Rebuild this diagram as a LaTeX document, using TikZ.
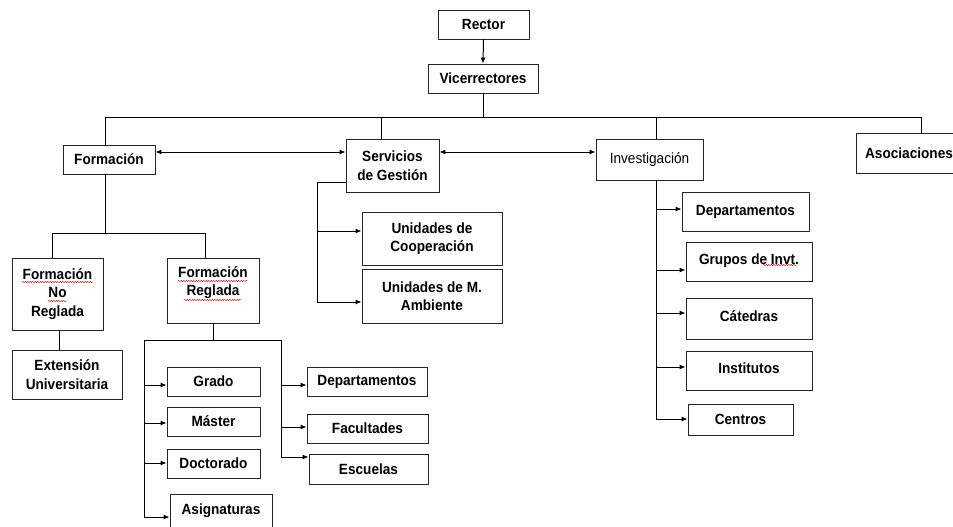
\documentclass[tikz,border=0pt]{standalone}
\usepackage{fontspec}
\setmainfont{Liberation Sans}[FakeStretch=0.92]
\usetikzlibrary{arrows.meta,decorations.pathmorphing}
\begin{document}
\begin{tikzpicture}[x=1pt,y=-1pt,
  box/.style={draw=black!85,line width=0.9pt,inner sep=0pt,align=center,font=\fontsize{14.8}{18.5}\selectfont\bfseries},
  reg/.style={font=\fontsize{14.8}{18.5}\selectfont},
  ln/.style={line width=1pt,black},
  arr/.style={ln,-{Latex[length=6pt,width=5pt]}},
  darr/.style={ln,{Latex[length=6pt,width=5pt]}-{Latex[length=6pt,width=5pt]}},
  squig/.style={red!80!black,line width=0.4pt,decorate,decoration={snake,amplitude=0.7pt,segment length=2.5pt}}]
\useasboundingbox (0,0) rectangle (953,527);
\fill[white] (0,0) rectangle (953,527);
% boxes
\node[box,minimum width=91,minimum height=29] (rector) at (483.5,24.5) {Rector};
\node[box,minimum width=110,minimum height=29] (vice) at (483,78.5) {Vicerrectores};
\node[box,minimum width=92,minimum height=29] (form) at (109,159.5) {Formación};
\node[box,minimum width=93,minimum height=53] (serv) at (392.5,165.5) {Servicios\\de Gestión};
\node[box,reg,minimum width=107,minimum height=41] (inv) at (649.5,159.5) {Investigación};
\node[box,minimum width=106,minimum height=40] (asoc) at (909,153) {Asociaciones};
\node[box,minimum width=140,minimum height=53] (coop) at (432,238.5) {Unidades de\\Cooperación};
\node[box,minimum width=140,minimum height=54] (amb) at (432,296) {Unidades de M.\\Ambiente};
\node[box,minimum width=91,minimum height=72] (fnr) at (57.5,294) {Formación\\No\\Reglada};
\node[box,minimum width=92,minimum height=65] (fr) at (213,290.5) {Formación\\Reglada\\\mbox{}};
\node[box,minimum width=110,minimum height=49] (ext) at (67,374.5) {Extensión\\Universitaria};
\node[box,minimum width=93,minimum height=29] (grado) at (213.5,381.5) {Grado};
\node[box,minimum width=93,minimum height=29] (master) at (213.5,421.5) {Máster};
\node[box,minimum width=93,minimum height=29] (doct) at (213.5,463.5) {Doctorado};
\node[box,minimum width=102,minimum height=34] (asig) at (221,511) {Asignaturas};
\node[box,minimum width=120,minimum height=29] (dep1) at (367,381.5) {Departamentos};
\node[box,minimum width=121,minimum height=29] (fac) at (367.5,428.5) {Facultades};
\node[box,minimum width=119,minimum height=30] (esc) at (368.5,469) {Escuelas};
\node[box,minimum width=127,minimum height=39] (dep2) at (745.5,211.5) {Departamentos};
\node[box,minimum width=126,minimum height=39] (grupos) at (749,261.5) {\raisebox{4pt}{Grupos de Invt.}};
\node[box,minimum width=126,minimum height=41] (cat) at (749,318.5) {\raisebox{4pt}{Cátedras}};
\node[box,minimum width=126,minimum height=39] (inst) at (749,370.5) {\raisebox{4pt}{Institutos}};
\node[box,minimum width=105,minimum height=31] (centros) at (740.5,419.5) {Centros};
% squiggles (spell-check marks)
\draw[squig] (22,282) -- (93,282);
\draw[squig] (48,301) -- (67,301);
\draw[squig] (178,281) -- (248,281);
\draw[squig] (184,300) -- (241,300);
\draw[squig] (763,265) -- (796,265);
% coordinates
\coordinate (b0) at (483,117);
\coordinate (b1) at (105,117);
\coordinate (b2) at (381,117);
\coordinate (b3) at (656,117);
\coordinate (b4) at (921,117);
\coordinate (ya) at (0,152);
\coordinate (s1) at (317,182);
\coordinate (sc) at (317,231);
\coordinate (sa) at (317,302);
\coordinate (f1) at (105,233);
\coordinate (f2) at (52,233);
\coordinate (f3) at (205,233);
\coordinate (r1) at (213,340);
\coordinate (r2) at (144,340);
\coordinate (r3) at (281,340);
\coordinate (g1) at (144,385);
\coordinate (g2) at (144,423);
\coordinate (g3) at (144,463);
\coordinate (g4) at (144,517);
\coordinate (h1) at (281,385);
\coordinate (h2) at (281,427);
\coordinate (h3) at (281,457);
\coordinate (i0) at (656,180);
\coordinate (i1) at (656,209);
\coordinate (i2) at (656,270);
\coordinate (i3) at (656,313);
\coordinate (i4) at (656,367);
\coordinate (i5) at (656,419);
% connectors
\draw[arr] (rector.south) -- (vice.north);
\draw[ln] (vice.south) -- (b0);
\draw[ln] (b1) -- (b4);
\draw[ln] (b1) -- (b1 |- form.north);
\draw[ln] (b2) -- (b2 |- serv.north);
\draw[ln] (b3) -- (b3 |- inv.north);
\draw[ln] (b4) -- (b4 |- asoc.north);
\draw[darr] (form.east |- ya) -- (serv.west |- ya);
\draw[darr] (serv.east |- ya) -- (inv.west |- ya);
\draw[ln] (serv.west |- s1) -- (s1) -- (sa);
\draw[arr] (sc) -- (sc -| coop.west);
\draw[arr] (sa) -- (sa -| amb.west);
\draw[ln] (f1 |- form.south) -- (f1);
\draw[ln] (f2) -- (f3);
\draw[ln] (f2) -- (f2 |- fnr.north);
\draw[ln] (f3) -- (f3 |- fr.north);
\draw[ln] (fnr.south -| 59,0) -- (ext.north -| 59,0);
\draw[ln] (fr.south) -- (r1);
\draw[ln] (r2) -- (r3);
\draw[ln] (r2) -- (g4);
\draw[ln] (r3) -- (h3);
\draw[arr] (g1) -- (g1 -| grado.west);
\draw[arr] (g2) -- (g2 -| master.west);
\draw[arr] (g3) -- (g3 -| doct.west);
\draw[arr] (g4) -- (g4 -| asig.west);
\draw[arr] (h1) -- (h1 -| dep1.west);
\draw[arr] (h2) -- (h2 -| fac.west);
\draw[arr] (h3) -- (h3 -| esc.west);
\draw[ln] (i0) -- (i5);
\draw[arr] (i1) -- (i1 -| dep2.west);
\draw[arr] (i2) -- (i2 -| grupos.west);
\draw[arr] (i3) -- (i3 -| cat.west);
\draw[arr] (i4) -- (i4 -| inst.west);
\draw[arr] (i5) -- (i5 -| centros.west);
\end{tikzpicture}
\end{document}
